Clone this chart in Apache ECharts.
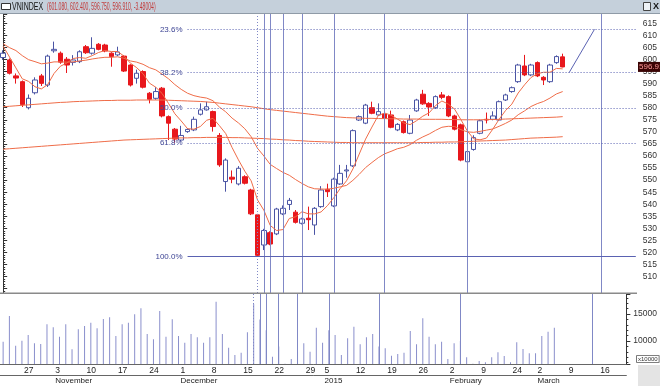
<!DOCTYPE html>
<html><head><meta charset="utf-8">
<script src="https://cdn.jsdelivr.net/npm/echarts@6/dist/echarts.min.js"></script>
<style>html,body{margin:0;padding:0;background:#fff}#c{width:660px;height:386px}</style>
</head><body><div id="c"></div>
<script>
// ---------- data ----------
const dates = [
'2014-10-22','2014-10-23','2014-10-24','2014-10-27','2014-10-28','2014-10-29','2014-10-30','2014-10-31',
'2014-11-03','2014-11-04','2014-11-05','2014-11-06','2014-11-07','2014-11-10','2014-11-11','2014-11-12','2014-11-13','2014-11-14','2014-11-17','2014-11-18','2014-11-19','2014-11-20','2014-11-21','2014-11-24','2014-11-25','2014-11-26','2014-11-27','2014-11-28',
'2014-12-01','2014-12-02','2014-12-03','2014-12-04','2014-12-05','2014-12-08','2014-12-09','2014-12-10','2014-12-11','2014-12-12','2014-12-15','2014-12-16','2014-12-17','2014-12-18','2014-12-19','2014-12-22','2014-12-23','2014-12-24','2014-12-25','2014-12-26','2014-12-29','2014-12-30','2014-12-31',
'2015-01-05','2015-01-06','2015-01-07','2015-01-08','2015-01-09','2015-01-12','2015-01-13','2015-01-14','2015-01-15','2015-01-16','2015-01-19','2015-01-20','2015-01-21','2015-01-22','2015-01-23','2015-01-26','2015-01-27','2015-01-28','2015-01-29','2015-01-30',
'2015-02-02','2015-02-03','2015-02-04','2015-02-05','2015-02-06','2015-02-09','2015-02-10','2015-02-11','2015-02-12','2015-02-13','2015-02-24','2015-02-25','2015-02-26','2015-02-27',
'2015-03-02','2015-03-03','2015-03-04','2015-03-05','2015-03-06','2015-03-09','2015-03-10','2015-03-11','2015-03-12','2015-03-13','2015-03-16','2015-03-17','2015-03-18','2015-03-19','2015-03-20'];

// [open, close, low, high]
const ohlc = [
[600.8,602.6,599.8,603.8],[599.8,594.3,593.8,600.4],[593.2,592.3,590.0,594.2],[590.8,581.3,580.3,591.3],
[580.0,583.9,579.3,585.5],[586.2,591.5,585.5,592.6],[593.2,590.1,589.0,594.0],[589.4,601.4,588.6,602.0],
[603.6,604.2,602.8,607.4],[602.6,598.9,598.2,603.3],[600.1,597.7,594.4,601.0],[598.8,599.8,597.5,601.8],
[599.1,603.2,598.5,603.8],[605.3,602.8,602.3,606.0],[602.6,604.6,602.0,609.2],[606.3,604.2,603.8,606.8],
[606.0,603.5,603.0,606.5],[602.6,601.2,597.0,603.0],[601.9,603.1,601.4,605.3],[601.4,595.2,594.8,601.8],
[597.7,589.4,588.8,598.0],[592.2,594.3,590.0,595.8],[595.0,588.5,588.0,595.5],[586.0,583.5,581.8,586.5],
[583.9,586.7,583.3,588.5],[588.1,576.6,576.0,588.6],[576.3,573.6,566.6,576.8],[571.1,567.0,565.5,571.6],
[566.6,568.5,566.0,572.5],[570.1,571.0,569.6,571.5],[570.8,575.2,570.3,576.3],[577.3,579.1,576.8,581.8],
[579.1,580.4,578.8,582.5],[578.4,572.2,570.1,578.8],[568.5,556.3,555.5,569.5],[549.4,558.3,545.2,559.0],
[551.2,550.4,548.7,554.0],[548.4,554.9,547.8,555.8],[551.4,548.7,548.2,552.0],[545.9,536.0,535.5,546.4],
[535.6,518.8,518.3,536.0],[523.1,529.1,521.0,529.8],[528.2,523.5,523.0,528.8],[527.7,538.0,527.2,538.5],
[536.0,538.3,535.5,539.5],[539.9,541.6,537.6,542.6],[536.7,532.5,532.0,537.6],[532.1,533.9,531.6,534.4],
[534.2,533.6,529.3,539.0],[531.4,538.3,527.3,538.8],[539.0,545.9,538.5,547.5],[546.2,545.2,543.0,548.5],
[539.3,550.4,538.8,551.0],[548.4,552.8,548.0,556.3],[553.8,554.2,551.0,556.3],[555.9,570.5,555.4,571.0],
[574.9,576.3,574.5,576.8],[573.6,581.1,573.2,581.6],[580.0,577.7,577.3,582.5],[577.0,578.4,576.6,581.8],
[577.4,575.6,575.2,578.0],[577.0,571.9,571.5,578.8],[570.8,573.1,570.3,573.6],[574.2,569.7,569.3,574.7],
[569.4,574.9,569.0,577.0],[578.7,583.2,578.3,583.7],[585.6,581.6,581.2,587.4],[581.8,580.3,576.6,582.3],
[580.0,584.6,579.5,585.1],[585.3,584.3,583.5,586.5],[584.6,576.6,576.1,585.1],[576.6,571.1,570.6,577.1],
[572.9,558.3,557.8,573.4],[557.6,561.8,557.0,562.3],[562.7,567.6,562.2,568.6],[569.4,574.6,569.0,575.1],
[575.2,574.9,573.5,578.0],[575.2,576.6,574.8,578.5],[574.9,582.5,574.5,583.0],[583.2,585.3,582.8,585.8],
[586.7,588.3,586.2,588.8],[590.8,597.7,590.3,598.2],[597.3,593.6,593.1,601.9],[593.6,597.7,593.1,598.2],
[598.7,593.2,592.7,599.2],[592.6,591.5,589.4,593.1],[590.8,597.7,590.3,598.2],[598.7,601.2,598.2,601.7],
[601.08,596.91,596.75,602.4]];

const volume = [9870,14630,9130,10060,11110,9570,9440,13090,12540,10800,13090,8460,12170,12780,13390,12350,
14070,14390,10930,13090,13390,14940,16060,11300,10310,15560,10800,14010,10930,9690,11300,10680,9690,10680,
17280,11300,8760,7410,7830,11610,16850,14000,12000,7090,9000,5800,6670,8000,9570,8020,12460,9690,12000,
11110,7410,10500,12650,9380,10680,11300,9000,8650,7280,7590,7830,11850,9380,14200,10800,9380,9870,6670,
9570,10000,6980,5800,6300,6060,6980,7910,7220,6060,9750,8520,7720,7720,10930,11720,12460];

const maFast = [605.5,601.0,596.5,592.0,590.9,588.7,587.8,589.6,594.2,597.2,598.5,600.4,600.8,600.5,601.6,602.9,
603.7,603.3,603.3,601.4,598.5,596.6,594.1,590.2,588.5,585.9,581.8,577.5,574.5,571.3,571.1,572.2,574.8,575.6,
572.6,569.3,563.5,558.4,553.7,549.7,541.8,537.5,531.2,529.1,529.5,534.1,534.8,536.9,536.0,536.0,536.8,539.4,
542.7,546.5,549.7,554.6,560.8,567.0,572.0,576.8,577.8,576.9,575.3,573.7,573.0,574.6,576.5,577.9,580.9,582.8,
581.5,579.4,575.0,570.4,567.1,566.7,567.4,571.1,575.2,578.8,581.5,586.1,589.5,592.5,594.1,594.7,594.7,596.3,596.1];

const maMid = [606.5,604.9,603.7,601.6,599.9,599.1,598.2,598.5,599.0,599.0,598.9,599.0,599.4,599.7,600.2,600.6,
600.9,600.9,601.1,600.5,599.4,598.9,598.0,596.6,595.7,593.9,592.0,589.6,587.6,586.0,585.0,584.4,584.0,582.9,
580.3,578.3,575.7,573.7,571.3,568.0,563.2,560.0,556.5,554.8,553.2,552.0,550.2,548.6,547.2,546.4,546.3,546.2,
546.6,547.2,547.8,549.9,552.4,555.2,557.3,559.3,560.9,561.9,563.0,563.6,564.7,566.5,567.9,569.1,570.6,571.9,
572.3,572.2,570.9,570.0,569.8,570.2,570.7,571.2,572.3,573.5,574.9,577.1,578.7,580.5,581.7,582.6,584.0,585.7,586.7];

const maSlow = [580.4,580.6,580.8,581.0,581.2,581.4,581.6,581.8,582.0,582.2,582.3,582.5,582.6,582.7,582.8,582.9,
583.0,583.0,583.1,583.1,583.1,583.2,583.2,583.2,583.2,583.2,583.1,583.0,582.9,582.8,582.7,582.6,582.4,582.2,
581.9,581.6,581.3,581.0,580.7,580.4,580.0,579.6,579.2,578.9,578.6,578.3,578.0,577.7,577.4,577.1,576.8,576.5,
576.3,576.1,575.9,575.8,575.7,575.6,575.6,575.5,575.5,575.4,575.4,575.3,575.3,575.3,575.2,575.2,575.2,575.2,
575.1,575.1,575.0,575.0,575.0,575.0,575.1,575.1,575.2,575.3,575.4,575.5,575.6,575.7,575.8,575.9,576.0,576.1,576.3];

const maLong = [562.8,563.0,563.2,563.4,563.6,563.8,564.0,564.2,564.4,564.6,564.8,565.0,565.2,565.4,565.6,565.8,
566.0,566.2,566.4,566.6,566.7,566.8,566.9,567.0,567.1,567.2,567.3,567.4,567.5,567.5,567.6,567.6,567.7,567.7,
567.7,567.7,567.6,567.6,567.5,567.4,567.3,567.2,567.0,566.9,566.7,566.6,566.4,566.3,566.1,566.0,565.9,565.8,
565.7,565.6,565.6,565.5,565.5,565.5,565.5,565.5,565.5,565.5,565.5,565.5,565.5,565.5,565.6,565.6,565.7,565.7,
565.8,565.8,565.9,566.0,566.1,566.2,566.3,566.4,566.5,566.6,566.8,567.0,567.2,567.4,567.5,567.6,567.7,567.8,568.0];

const fibHigh = 641.6, fibLow = 518.3;
const fibRatios = [0.236, 0.382, 0.5, 0.618, 1.0];
const fibStart = 29;
const timeZones = [40, 41, 42, 44, 47, 52, 60, 73, 94];
const trendLine = [[89, 594.5], [93, 612.5]];
const weekTicks = ['2014-10-27','2014-11-03','2014-11-10','2014-11-17','2014-11-24','2014-12-01','2014-12-08',
'2014-12-15','2014-12-22','2014-12-29','2015-01-05','2015-01-12','2015-01-19','2015-01-26','2015-02-02',
'2015-02-09','2015-02-24','2015-03-02','2015-03-09','2015-03-16'];
const monthTicks = ['2014-11-03','2014-12-01','2015-01-05','2015-02-02','2015-03-02'];
const monthNames = ['November','December','2015','February','March'];
const symbolName = 'VNINDEX';
const quote = ['601.080','602.400','596.750','596.910','-3.48004'];
const priceLabels = [510,515,520,525,530,535,540,545,550,555,560,565,570,575,580,585,590,595,600,605,610,615];
const volumeLabels = [10000, 15000];

// ---------- chart ----------
const FONT = "'Liberation Sans',Arial,sans-serif";
const ORANGE = '#ef6c48';
const NAVY = '#5a62b2';
const VLINE = '#8088c6';
const chart = echarts.init(document.getElementById('c'), null, {renderer: 'canvas'});
const wk = new Set(weekTicks), mo = new Set(monthTicks);
const zoneLines = timeZones.map((i, k) => ({xAxis: i, lineStyle: {type: k === 0 ? [1, 2] : 'solid'}}));
const last = ohlc[ohlc.length - 1][1];

const maSeries = [maFast, maMid, maSlow, maLong].map((d, k) => ({
  type: 'line', name: 'ma' + k, xAxisIndex: 0, yAxisIndex: 0, data: d,
  showSymbol: false, symbol: 'none', z: 4, silent: true,
  lineStyle: {color: ORANGE, width: 1}
}));

const dayAxis = (offset, set, fmt, size) => ({
  type: 'category', gridIndex: 1, data: dates, boundaryGap: true, position: 'bottom', offset: offset,
  axisLine: {lineStyle: {color: '#666', width: 1}},
  axisTick: {alignWithLabel: true, length: 11, interval: (i) => set.has(dates[i]), lineStyle: {color: '#666'}},
  axisLabel: {interval: (i) => set.has(dates[i]), formatter: fmt, align: 'left', margin: 2,
    padding: [0, 0, 0, 2], fontSize: size, color: '#222', fontFamily: FONT},
  splitLine: {show: false}
});

const option = {
  animation: false,
  textStyle: {fontFamily: FONT},
  grid: [
    {left: 0, right: 23, top: 14, height: 279},
    {left: 0, right: 23, top: 294, height: 70}
  ],
  xAxis: [
    {type: 'category', gridIndex: 0, data: dates, boundaryGap: true, show: false},
    {type: 'value', gridIndex: 0, min: -0.5, max: 99.5, show: false},
    dayAxis(0, wk, v => String(parseInt(v.slice(8), 10)), 8.5),
    dayAxis(11, mo, v => monthNames[monthTicks.indexOf(v)] || '', 8)
  ],
  yAxis: [
    {type: 'value', gridIndex: 0, position: 'right', min: 503.2, max: 618.85, splitNumber: 22,
      axisLine: {show: true, lineStyle: {color: '#333'}},
      axisTick: {show: true, length: 4, lineStyle: {color: '#333'}},
      minorTick: {show: true, splitNumber: 5, length: 2, lineStyle: {color: '#333'}},
      splitLine: {show: false},
      axisLabel: {showMinLabel: false, showMaxLabel: false, margin: 7, fontSize: 8.5, color: '#333', fontFamily: FONT,
        formatter: v => priceLabels.indexOf(Math.round(v)) >= 0 && Math.abs(v - Math.round(v)) < 1e-6 ? String(Math.round(v)) : ''}},
    {type: 'value', gridIndex: 1, position: 'right', min: 5740, max: 18700, splitNumber: 3,
      axisLine: {show: true, lineStyle: {color: '#333'}},
      axisTick: {show: true, length: 4, lineStyle: {color: '#333'}},
      minorTick: {show: true, splitNumber: 5, length: 2, lineStyle: {color: '#333'}},
      splitLine: {show: false},
      axisLabel: {showMinLabel: false, showMaxLabel: false, margin: 7, fontSize: 8.5, color: '#333', fontFamily: FONT,
        formatter: v => volumeLabels.indexOf(v) >= 0 ? String(v) : ''}}
  ],
  series: [
    {type: 'candlestick', xAxisIndex: 0, yAxisIndex: 0, data: ohlc, barWidth: 5, z: 3, silent: true,
      itemStyle: {color: '#ffffff', color0: '#e8171c', borderColor: '#4a54a4', borderColor0: '#e8171c', borderWidth: 1},
      markLine: {silent: true, symbol: 'none', label: {show: false}, lineStyle: {color: VLINE, width: 1}, data: zoneLines}},
    ...maSeries,
    {type: 'line', xAxisIndex: 1, yAxisIndex: 0, data: trendLine, showSymbol: false, symbol: 'none', z: 5, silent: true,
      lineStyle: {color: NAVY, width: 1},
      markLine: {silent: true, symbol: 'none',
        data: fibRatios.map(r => {
          const v = fibHigh - r * (fibHigh - fibLow);
          return [
            {coord: [fibStart, v], lineStyle: {type: r === 1 ? 'solid' : [1, 2], color: NAVY, width: 1},
              label: {show: true, position: 'start', distance: 5, formatter: (r * 100).toFixed(1) + '%',
                fontSize: 8, color: '#3d4494', fontFamily: FONT}},
            {coord: [99.5, v]}
          ];
        })}},
    {type: 'bar', xAxisIndex: 2, yAxisIndex: 1, data: volume, barWidth: 1, silent: true,
      itemStyle: {color: '#8a8fcc'},
      markLine: {silent: true, symbol: 'none', label: {show: false}, lineStyle: {color: VLINE, width: 1}, data: zoneLines}}
  ],
  graphic: [
    {type: 'rect', shape: {x: 0, y: 292.5, width: 637, height: 1.6}, style: {fill: '#8a8a8a'}, z: 100, silent: true},
    {type: 'rect', shape: {x: 638, y: 365, width: 22, height: 21}, style: {fill: '#e4e4e4'}, z: 90, silent: true},
    {type: 'text', x: 637, y: 356, z: 101, silent: true,
      style: {text: 'x10000', font: '6px ' + FONT, fill: '#333',
        backgroundColor: '#fff', borderColor: '#555', borderWidth: 0.8, padding: [0, 1]}},
    {type: 'rect', shape: {x: 0, y: 0, width: 660, height: 13}, style: {fill: '#c5d0db'}, z: 100, silent: true},
    {type: 'rect', shape: {x: 0, y: 13, width: 660, height: 1}, style: {fill: '#8f9ba7'}, z: 100, silent: true},
    {type: 'rect', shape: {x: 1.5, y: 3.5, width: 9, height: 6}, style: {fill: '#fff', stroke: '#333', lineWidth: 1}, z: 101, silent: true},
    {type: 'text', x: 12, y: 2, scaleX: 0.7, z: 101, silent: true,
      style: {text: symbolName, font: '10px ' + FONT, fill: '#111'}},
    {type: 'text', x: 47, y: 2, scaleX: 0.51, z: 101, silent: true,
      style: {text: '(' + quote.join(', ') + ')', font: '10px ' + FONT, fill: '#c13b3b'}},
    {type: 'rect', shape: {x: 643.5, y: 2.5, width: 7, height: 8}, style: {fill: '#eef2f6', stroke: '#444', lineWidth: 1}, z: 101, silent: true},
    {type: 'text', x: 653, y: 2, z: 101, silent: true, style: {text: 'X', font: 'bold 9px ' + FONT, fill: '#111'}}
  ]
};
chart.setOption(option);

// last-close marker placed on the right axis through the library's own scale
const lastY = chart.convertToPixel({yAxisIndex: 0}, last);
chart.setOption({graphic: option.graphic.concat([
  {type: 'text', x: 638, y: lastY - 5, z: 102, silent: true,
    style: {text: last.toFixed(3), font: '8px ' + FONT, fill: '#ff9a9a',
      backgroundColor: '#3a0404', padding: [1, 1, 1, 1]}}
])});
</script></body></html>
